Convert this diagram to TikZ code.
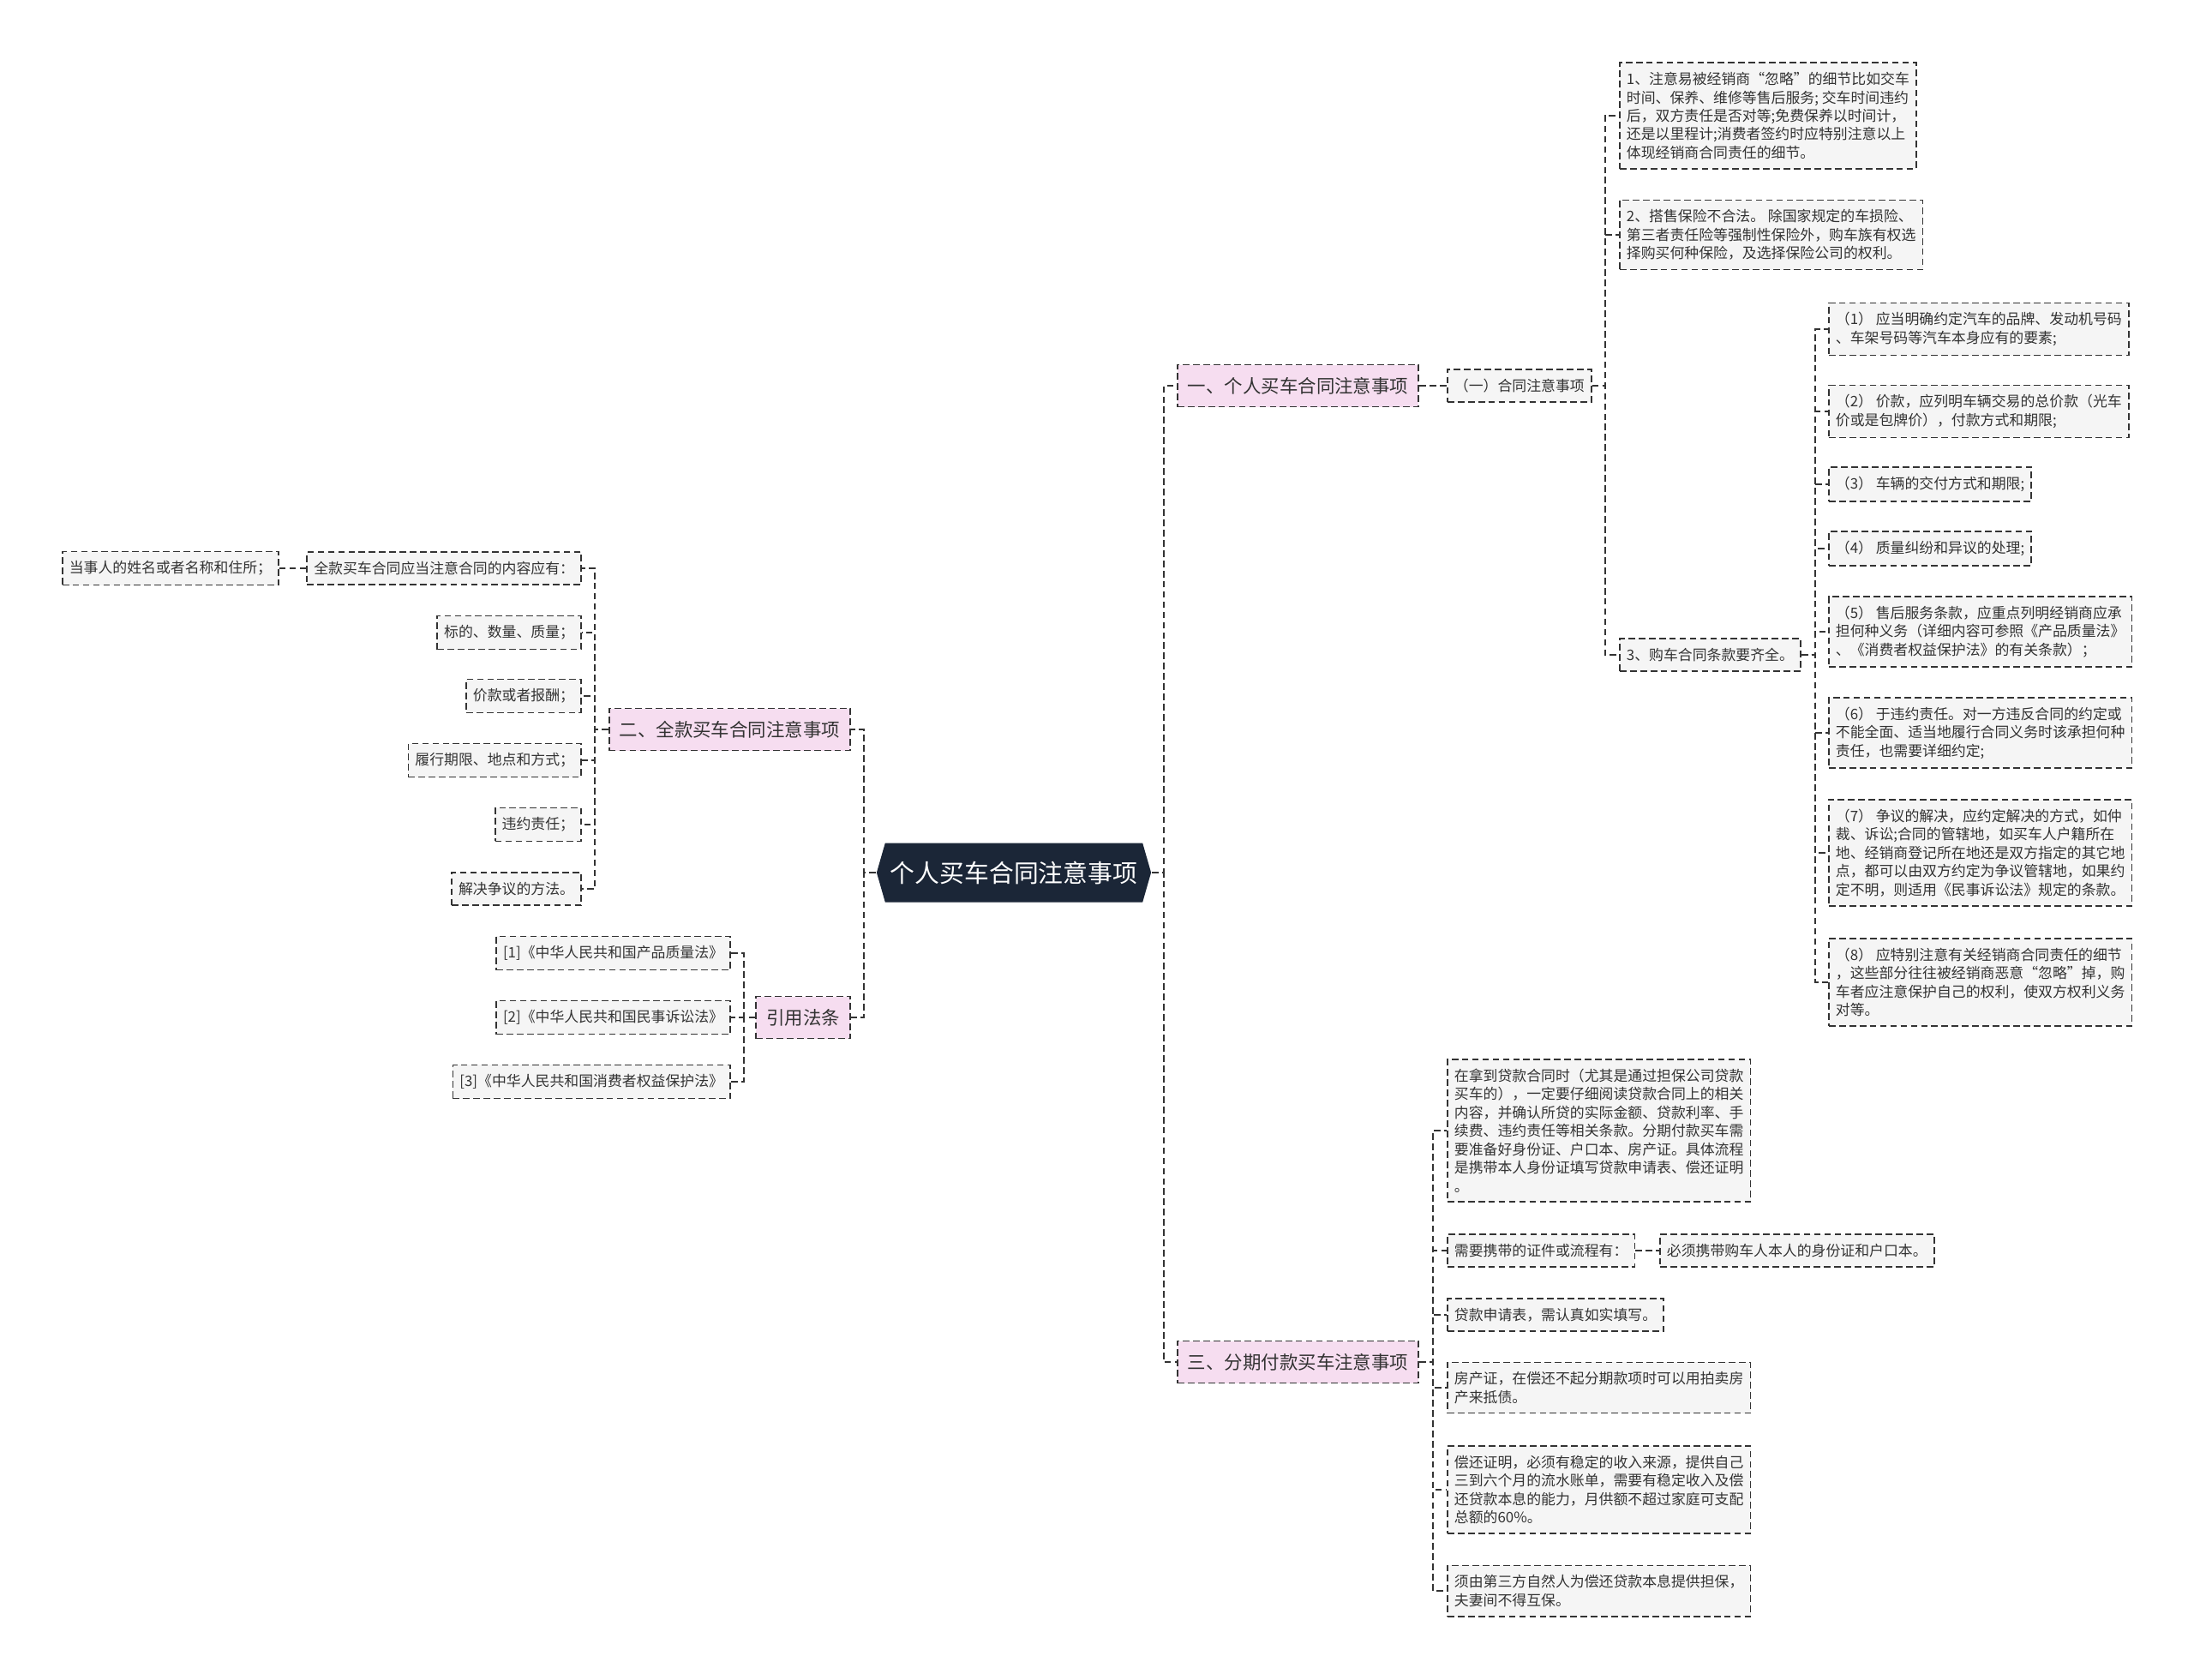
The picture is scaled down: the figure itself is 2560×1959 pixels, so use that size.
\documentclass[tikz,border=0pt]{standalone}
\usepackage{fontspec}
\setmainfont{Noto Sans CJK SC}
\usetikzlibrary{shapes.symbols}
\definecolor{boxgray}{HTML}{F5F5F5}
\definecolor{linegray}{HTML}{333333}
\definecolor{lvlpink}{HTML}{F6DDF0}
\definecolor{rootnavy}{HTML}{1B2637}
\tikzset{
  item/.style={draw=linegray,dash pattern=on 2.2pt off 1.2pt,line width=0.5pt,fill=boxgray,text=black!80,
    font=\fontsize{4.8pt}{6.1pt}\selectfont,align=left,inner xsep=0.08cm,inner ysep=0.11cm,minimum height=0.38cm},
  lvl/.style={item,fill=lvlpink,font=\fontsize{6.1pt}{7.5pt}\selectfont,inner xsep=0.12cm,minimum height=0.49cm},
  hub/.style={signal,signal to=west and east,signal pointer angle=148,fill=rootnavy,text=white,
    font=\fontsize{8.2pt}{10pt}\selectfont,minimum height=0.69cm,inner xsep=0.06cm},
  link/.style={draw=linegray,dash pattern=on 2.2pt off 1.2pt,line width=0.5pt}
}

\begin{document}
\begin{tikzpicture}[x=0.01cm,y=-0.01cm]
            \useasboundingbox[fill=white] (0,0) rectangle (2560,1959);
            % root
            \node[hub] (R) at (1183,1018) {个人买车合同注意事项};
            % right side
            \node[lvl,anchor=west] (A) at (1373,450) {一、个人买车合同注意事项};
            \node[item,anchor=west] (A1) at (1688,450) {（一）合同注意事项};
            \node[item,anchor=west] (A11) at (1889,135) {1、注意易被经销商“忽略”的细节比如交车\\时间、保养、维修等售后服务; 交车时间违约\\后，双方责任是否对等;免费保养以时间计，\\还是以里程计;消费者签约时应特别注意以上\\体现经销商合同责任的细节。};
            \node[item,anchor=west] (A12) at (1889,274) {2、搭售保险不合法。 除国家规定的车损险、\\第三者责任险等强制性保险外，购车族有权选\\择购买何种保险，及选择保险公司的权利。};
            \node[item,anchor=west] (A13) at (1889,764) {3、购车合同条款要齐全。};
            \node[item,anchor=west] (A131) at (2133,384) {（1） 应当明确约定汽车的品牌、发动机号码\\、车架号码等汽车本身应有的要素;};
            \node[item,anchor=west] (A132) at (2133,480) {（2） 价款，应列明车辆交易的总价款（光车\\价或是包牌价），付款方式和期限;};
            \node[item,anchor=west] (A133) at (2133,565) {（3） 车辆的交付方式和期限;};
            \node[item,anchor=west] (A134) at (2133,640) {（4） 质量纠纷和异议的处理;};
            \node[item,anchor=west] (A135) at (2133,737) {（5） 售后服务条款，应重点列明经销商应承\\担何种义务（详细内容可参照《产品质量法》\\、《消费者权益保护法》的有关条款）；};
            \node[item,anchor=west] (A136) at (2133,855) {（6） 于违约责任。对一方违反合同的约定或\\不能全面、适当地履行合同义务时该承担何种\\责任，也需要详细约定;};
            \node[item,anchor=west] (A137) at (2133,995) {（7） 争议的解决，应约定解决的方式，如仲\\裁、诉讼;合同的管辖地，如买车人户籍所在\\地、经销商登记所在地还是双方指定的其它地\\点，都可以由双方约定为争议管辖地，如果约\\定不明，则适用《民事诉讼法》规定的条款。};
            \node[item,anchor=west] (A138) at (2133,1146) {（8） 应特别注意有关经销商合同责任的细节\\，这些部分往往被经销商恶意“忽略”掉，购\\车者应注意保护自己的权利，使双方权利义务\\对等。};
            \node[lvl,anchor=west] (C) at (1373,1589) {三、分期付款买车注意事项};
            \node[item,anchor=west] (C1) at (1688,1319) {在拿到贷款合同时（尤其是通过担保公司贷款\\买车的），一定要仔细阅读贷款合同上的相关\\内容，并确认所贷的实际金额、贷款利率、手\\续费、违约责任等相关条款。分期付款买车需\\要准备好身份证、户口本、房产证。具体流程\\是携带本人身份证填写贷款申请表、偿还证明\\。};
            \node[item,anchor=west] (C2) at (1688,1459) {需要携带的证件或流程有：};
            \node[item,anchor=west] (C21) at (1936,1459) {必须携带购车人本人的身份证和户口本。};
            \node[item,anchor=west] (C3) at (1688,1534) {贷款申请表，需认真如实填写。};
            \node[item,anchor=west] (C4) at (1688,1619) {房产证，在偿还不起分期款项时可以用拍卖房\\产来抵债。};
            \node[item,anchor=west] (C5) at (1688,1738) {偿还证明，必须有稳定的收入来源，提供自己\\三到六个月的流水账单，需要有稳定收入及偿\\还贷款本息的能力，月供额不超过家庭可支配\\总额的60\%。};
            \node[item,anchor=west] (C6) at (1688,1856) {须由第三方自然人为偿还贷款本息提供担保，\\夫妻间不得互保。};
            % left side
            \node[lvl,anchor=east] (B) at (993,851) {二、全款买车合同注意事项};
            \node[item,anchor=east] (B1) at (679,663) {全款买车合同应当注意合同的内容应有：};
            \node[item,anchor=east] (B11) at (326,663) {当事人的姓名或者名称和住所；};
            \node[item,anchor=east] (B2) at (679,738) {标的、数量、质量；};
            \node[item,anchor=east] (B3) at (679,812) {价款或者报酬；};
            \node[item,anchor=east] (B4) at (679,887) {履行期限、地点和方式；};
            \node[item,anchor=east] (B5) at (679,962) {违约责任；};
            \node[item,anchor=east] (B6) at (679,1037) {解决争议的方法。};
            \node[lvl,anchor=east] (D) at (993,1187) {引用法条};
            \node[item,anchor=east] (D1) at (853,1112) {[1]《中华人民共和国产品质量法》};
            \node[item,anchor=east] (D2) at (853,1187) {[2]《中华人民共和国民事诉讼法》};
            \node[item,anchor=east] (D3) at (853,1262) {[3]《中华人民共和国消费者权益保护法》};
            % connectors
            \draw[link] (R.east) -| ([xshift=-0.15cm]A.west) -- (A.west);
            \draw[link] (R.east) -| ([xshift=-0.15cm]C.west) -- (C.west);
            \draw[link] (R.west) -| ([xshift=0.15cm]B.east) -- (B.east);
            \draw[link] (R.west) -| ([xshift=0.15cm]D.east) -- (D.east);
            \draw[link] (A.east) -- (A1.west);
            \draw[link] (A1.east) -| ([xshift=-0.16cm]A11.west) -- (A11.west);
            \draw[link] (A1.east) -| ([xshift=-0.16cm]A12.west) -- (A12.west);
            \draw[link] (A1.east) -| ([xshift=-0.16cm]A13.west) -- (A13.west);
            \draw[link] (A13.east) -| ([xshift=-0.15cm]A131.west) -- (A131.west);
            \draw[link] (A13.east) -| ([xshift=-0.15cm]A132.west) -- (A132.west);
            \draw[link] (A13.east) -| ([xshift=-0.15cm]A133.west) -- (A133.west);
            \draw[link] (A13.east) -| ([xshift=-0.15cm]A134.west) -- (A134.west);
            \draw[link] (A13.east) -| ([xshift=-0.15cm]A135.west) -- (A135.west);
            \draw[link] (A13.east) -| ([xshift=-0.15cm]A136.west) -- (A136.west);
            \draw[link] (A13.east) -| ([xshift=-0.15cm]A137.west) -- (A137.west);
            \draw[link] (A13.east) -| ([xshift=-0.15cm]A138.west) -- (A138.west);
            \draw[link] (C.east) -| ([xshift=-0.16cm]C1.west) -- (C1.west);
            \draw[link] (C.east) -| ([xshift=-0.16cm]C2.west) -- (C2.west);
            \draw[link] (C.east) -| ([xshift=-0.16cm]C3.west) -- (C3.west);
            \draw[link] (C.east) -| ([xshift=-0.16cm]C4.west) -- (C4.west);
            \draw[link] (C.east) -| ([xshift=-0.16cm]C5.west) -- (C5.west);
            \draw[link] (C.east) -| ([xshift=-0.16cm]C6.west) -- (C6.west);
            \draw[link] (C2.east) -- (C21.west);
            \draw[link] (B.west) -| ([xshift=0.15cm]B1.east) -- (B1.east);
            \draw[link] (B.west) -| ([xshift=0.15cm]B2.east) -- (B2.east);
            \draw[link] (B.west) -| ([xshift=0.15cm]B3.east) -- (B3.east);
            \draw[link] (B.west) -| ([xshift=0.15cm]B4.east) -- (B4.east);
            \draw[link] (B.west) -| ([xshift=0.15cm]B5.east) -- (B5.east);
            \draw[link] (B.west) -| ([xshift=0.15cm]B6.east) -- (B6.east);
            \draw[link] (B1.west) -- (B11.east);
            \draw[link] (D.west) -| ([xshift=0.15cm]D1.east) -- (D1.east);
            \draw[link] (D.west) -| ([xshift=0.15cm]D2.east) -- (D2.east);
            \draw[link] (D.west) -| ([xshift=0.15cm]D3.east) -- (D3.east);
\end{tikzpicture}
\end{document}
